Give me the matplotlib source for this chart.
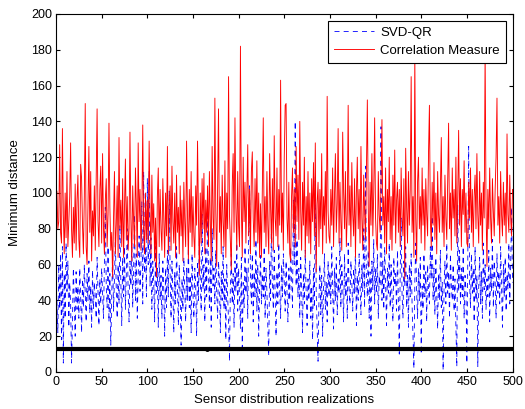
import numpy as np
import matplotlib.pyplot as plt

plt.rcParams['font.family'] = ['Liberation Sans', 'DejaVu Sans']

# Correlation Measure (red), one value per realization
corr = [101, 80, 84, 127, 78, 72, 136, 88, 66, 100, 75, 112, 70, 84, 98, 128, 80, 64, 92, 72, 105, 68, 96, 110, 74,
        64, 116, 108, 82, 66, 98, 150, 70, 60, 94, 126, 78, 112, 62, 90, 76, 104, 68, 110, 147, 84, 70, 102, 115, 72,
        122, 80, 66, 96, 108, 70, 88, 139, 92, 68, 78, 53, 86, 112, 66, 82, 104, 64, 131, 80, 96, 70, 108, 64, 90,
        119, 74, 98, 68, 80, 134, 86, 62, 104, 84, 70, 114, 92, 64, 128, 84, 102, 68, 88, 138, 80, 66, 100, 74, 96,
        72, 129, 90, 66, 110, 78, 94, 62, 86, 53, 98, 114, 70, 102, 80, 68, 108, 86, 64, 100, 76, 126, 66, 94, 104,
        68, 115, 84, 72, 100, 64, 110, 78, 92, 66, 104, 76, 96, 62, 106, 84, 70, 129, 88, 63, 102, 78, 112, 70, 98,
        76, 64, 104, 82, 129, 88, 54, 100, 72, 108, 80, 111, 66, 96, 78, 104, 70, 112, 84, 62, 126, 86, 74, 153, 90,
        59, 102, 147, 78, 98, 66, 110, 84, 70, 118, 64, 100, 80, 165, 88, 72, 57, 104, 122, 78, 142, 92, 68, 112, 82,
        70, 182, 92, 64, 120, 84, 106, 72, 98, 127, 76, 102, 66, 112, 123, 86, 70, 108, 78, 118, 72, 100, 64, 94, 64,
        102, 142, 78, 98, 70, 112, 82, 66, 122, 92, 72, 108, 68, 132, 86, 76, 114, 70, 102, 82, 163, 78, 100, 68, 120,
        149, 150, 86, 72, 106, 66, 62, 98, 114, 78, 102, 70, 126, 84, 110, 74, 140, 90, 68, 106, 82, 120, 64, 98, 76,
        112, 72, 100, 66, 108, 84, 117, 76, 128, 56, 94, 106, 70, 102, 80, 122, 66, 98, 82, 112, 72, 154, 90, 76, 72,
        102, 82, 114, 70, 98, 122, 78, 94, 136, 72, 106, 84, 68, 134, 100, 80, 112, 70, 88, 149, 82, 104, 70, 117, 88,
        76, 108, 64, 100, 120, 80, 102, 72, 126, 86, 68, 110, 90, 74, 114, 152, 92, 59, 106, 82, 122, 76, 100, 142, 86,
        72, 68, 112, 88, 78, 106, 141, 82, 98, 72, 114, 66, 102, 84, 120, 74, 98, 68, 110, 82, 124, 72, 96, 106, 78,
        102, 70, 114, 86, 76, 108, 52, 125, 92, 72, 112, 82, 102, 165, 78, 98, 64, 177, 86, 62, 106, 120, 80, 98, 72,
        114, 82, 102, 68, 108, 88, 76, 122, 149, 86, 70, 106, 82, 117, 74, 100, 66, 112, 88, 78, 102, 131, 78, 98, 70,
        110, 86, 74, 106, 139, 80, 100, 68, 114, 86, 102, 76, 120, 72, 98, 135, 82, 108, 70, 102, 88, 118, 78, 100, 72,
        70, 106, 86, 114, 78, 102, 70, 98, 110, 80, 122, 88, 72, 112, 82, 100, 68, 106, 86, 180, 92, 59, 102, 80, 114,
        86, 72, 108, 90, 76, 102, 120, 153, 82, 98, 72, 112, 88, 76, 106, 82, 100, 72, 133, 88, 78, 110, 86, 76, 102]

# SVD-QR (blue dashed)
svdqr = [40, 22, 60, 35, 66, 18, 70, 5, 55, 30, 72, 45, 62, 25, 50, 38, 5, 28, 58, 40, 20, 56, 35, 48, 30,
         58, 42, 22, 52, 36, 60, 44, 28, 55, 40, 62, 33, 48, 25, 57, 35, 50, 42, 30, 64, 45, 26, 52, 38, 58,
         44, 30, 62, 92, 48, 36, 70, 28, 55, 15, 40, 68, 34, 52, 75, 45, 30, 60, 38, 82, 50, 26, 64, 42, 70,
         35, 55, 80, 44, 28, 62, 48, 72, 36, 58, 88, 40, 66, 30, 52, 76, 45, 60, 95, 38, 112, 55, 70, 42, 108,
         60, 112, 48, 75, 35, 62, 50, 28, 70, 44, 58, 25, 66, 40, 54, 30, 62, 46, 20, 58, 36, 68, 42, 101, 55,
         30, 62, 45, 22, 56, 38, 70, 48, 26, 60, 42, 15, 52, 35, 64, 46, 28, 58, 40, 72, 36, 54, 22, 66, 44,
         30, 58, 48, 20, 62, 40, 75, 52, 34, 88, 46, 60, 28, 70, 42, 95, 55, 36, 64, 25, 80, 48, 58, 38, 68,
         44, 30, 62, 50, 22, 56, 40, 70, 35, 52, 18, 60, 42, 28, 6, 48, 66, 38, 55, 25, 62, 45, 72, 34, 58,
         40, 24, 64, 11, 50, 36, 70, 44, 58, 30, 78, 104, 52, 38, 66, 28, 56, 42, 74, 34, 60, 20, 48, 65, 38,
         55, 42, 70, 30, 58, 45, 25, 9, 62, 40, 85, 50, 35, 68, 44, 20, 56, 38, 72, 46, 30, 60, 42, 66, 50,
         34, 62, 45, 28, 58, 40, 70, 52, 36, 96, 60, 140, 48, 74, 42, 58, 30, 64, 46, 22, 55, 38, 68, 44, 26,
         52, 40, 62, 30, 48, 18, 58, 36, 109, 44, 25, 6, 40, 60, 32, 54, 20, 46, 66, 35, 50, 28, 62, 42, 56,
         38, 70, 46, 24, 58, 40, 64, 32, 52, 44, 75, 36, 60, 48, 28, 66, 42, 55, 30, 72, 46, 38, 62, 50, 34,
         58, 44, 70, 26, 54, 40, 66, 48, 32, 60, 45, 80, 36, 115, 52, 42, 68, 30, 56, 20, 62, 46, 74, 38, 58,
         44, 66, 30, 54, 48, 137, 40, 62, 35, 70, 50, 26, 58, 44, 72, 36, 60, 42, 28, 64, 48, 55, 34, 68, 40,
         10, 56, 86, 44, 30, 62, 48, 70, 36, 54, 25, 60, 42, 66, 38, 20, 2, 50, 72, 45, 30, 58, 40, 64, 10,
         48, 35, 66, 42, 56, 28, 60, 46, 38, 70, 52, 87, 40, 58, 32, 64, 44, 24, 55, 40, 68, 36, 50, 1, 46,
         62, 38, 72, 44, 56, 30, 66, 48, 40, 60, 34, 52, 25, 3, 93, 45, 68, 38, 58, 42, 70, 30, 54, 46, 5,
         62, 126, 50, 36, 66, 44, 58, 28, 70, 40, 54, 3, 48, 64, 38, 56, 30, 72, 46, 60, 35, 52, 42, 68, 28,
         58, 45, 74, 36, 62, 50, 30, 66, 44, 56, 38, 70, 48, 25, 60, 42, 64, 34, 55, 46, 72, 38, 60, 92, 50]

threshold = 13        # black reference line
dot_x = [165]         # the single visible dot on it

x_red = np.arange(1, len(corr) + 1)
x_blue = np.arange(1, len(svdqr) + 1)

fig = plt.figure(figsize=(5.25, 4.09), dpi=100)
# axes box: x 56..512 px, y 14..372 px
ax = fig.add_axes([0.1067, 0.0905, 0.8695, 0.8753])

ax.plot(x_blue, svdqr, '--', color='blue', lw=0.6, dashes=(6, 5), label='SVD-QR')
ax.plot(x_red, corr, '-', color='red', lw=0.65, label='Correlation Measure')
ax.axhline(threshold, color='black', lw=3)
ax.plot(dot_x, [threshold], '.', color='black', ms=5)

ax.set_xlim(0, 500)
ax.set_ylim(0, 200)
ax.set_xticks(np.arange(0, 501, 50))
ax.set_yticks(np.arange(0, 201, 20))
ax.tick_params(direction='in', top=True, right=True, labelsize=9, length=3, pad=3)
ax.set_xlabel('Sensor distribution realizations', fontsize=9.5)
ax.set_ylabel('Minimum distance', fontsize=9.5)
ax.xaxis.set_label_coords(0.5, -0.062)
ax.yaxis.set_label_coords(-0.077, 0.5)

leg = ax.legend(loc='upper right', fontsize=9.5, handlelength=3.0, fancybox=False,
                edgecolor='black', framealpha=1, borderaxespad=0.5, labelspacing=0.45,
                borderpad=0.45, handletextpad=0.5)
leg.get_frame().set_linewidth(0.8)

fig.savefig('out.png', dpi=100)
